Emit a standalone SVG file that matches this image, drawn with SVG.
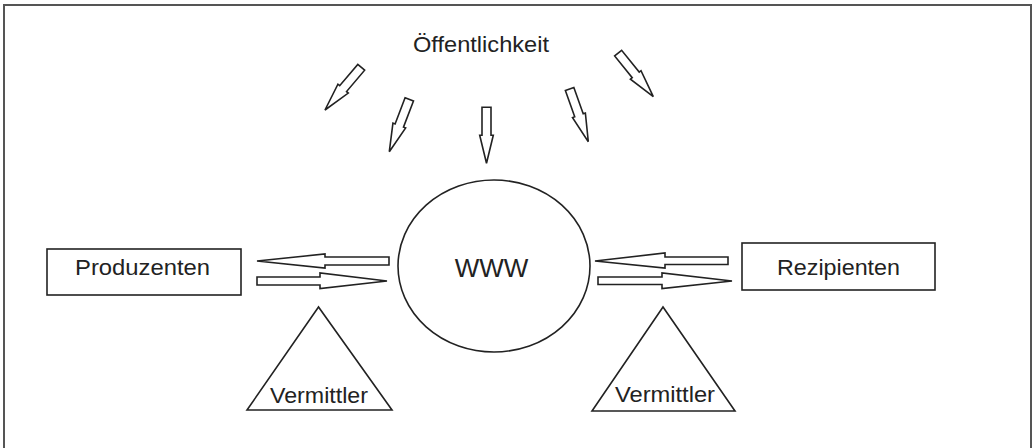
<svg xmlns="http://www.w3.org/2000/svg" width="1034" height="448" viewBox="0 0 1034 448">
  <style>
    .shape { fill: #ffffff; stroke: #222222; stroke-width: 1.6; stroke-linejoin: miter; }
    .label { font-family: "Liberation Sans", Arial, sans-serif; font-size: 22px; fill: #222222; }
    .frame { fill: none; stroke: #555555; stroke-width: 2; }
  </style>
  <defs>
    <!-- hollow block arrow pointing down, tip at the origin -->
    <path id="drop-arrow" class="shape" d="M -4.5,-56 H 4.5 V -28 H 6.8 L 0,0 L -6.8,-28 H -4.5 Z"/>
  </defs>

  <rect width="1034" height="448" fill="#ffffff"/>
  <path class="frame" d="M 4,450 V 5 H 1031 V 450"/>

  <g id="oeffentlichkeit">
    <text class="label" x="413" y="52" textLength="136" lengthAdjust="spacingAndGlyphs">Öffentlichkeit</text>
  </g>

  <g id="www">
    <ellipse class="shape" cx="494" cy="266" rx="96" ry="86"/>
    <text class="label" x="491.5" y="277" text-anchor="middle" style="font-size:26px">WWW</text>
  </g>

  <g id="produzenten">
    <rect class="shape" x="47" y="249" width="194" height="46"/>
    <text class="label" x="75" y="275" textLength="135" lengthAdjust="spacingAndGlyphs">Produzenten</text>
  </g>

  <g id="rezipienten">
    <rect class="shape" x="742" y="243" width="193" height="47"/>
    <text class="label" x="777" y="275" textLength="123" lengthAdjust="spacingAndGlyphs">Rezipienten</text>
  </g>

  <g id="vermittler-links">
    <polygon class="shape" points="318.5,307 247,410 392,410"/>
    <text class="label" x="270" y="403" textLength="98" lengthAdjust="spacingAndGlyphs">Vermittler</text>
  </g>

  <g id="vermittler-rechts">
    <polygon class="shape" points="663,307 592,411 735,411"/>
    <text class="label" x="615" y="402" textLength="100" lengthAdjust="spacingAndGlyphs">Vermittler</text>
  </g>

  <g id="connectors">
    <!-- public attention flowing towards the web -->
    <use href="#drop-arrow" transform="translate(325,110) rotate(40.3)"/>
    <use href="#drop-arrow" transform="translate(389.3,151.7) rotate(20.9)"/>
    <use href="#drop-arrow" transform="translate(486.5,163.3)"/>
    <use href="#drop-arrow" transform="translate(588.3,141.7) rotate(-19.5)"/>
    <use href="#drop-arrow" transform="translate(653.3,96.7) rotate(-38.9)"/>

    <!-- exchange between producers and the web -->
    <path class="shape" d="M 257,261 L 325,254 V 257 H 389 V 265 H 325 V 268 Z"/>
    <path class="shape" d="M 257,277 H 320 V 273 L 387,281 L 320,288.5 V 285 H 257 Z"/>

    <!-- exchange between the web and recipients -->
    <path class="shape" d="M 595,261 L 665,253 V 257 H 728 V 264.5 H 665 V 268 Z"/>
    <path class="shape" d="M 598,277 H 662 V 273 L 732,281 L 662,288.5 V 284.5 H 598 Z"/>
  </g>
</svg>
